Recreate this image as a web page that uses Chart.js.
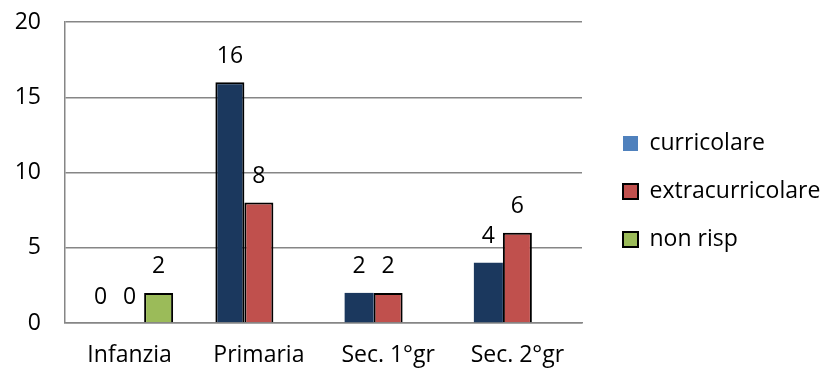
<!DOCTYPE html>
<html>
<head>
<meta charset="utf-8">
<script src="https://cdn.jsdelivr.net/npm/chart.js@4"></script>
<style>
  html, body { margin: 0; padding: 0; background: #fff; }
  #wrap { width: 820px; height: 371px; }
</style>
</head>
<body>
<div id="wrap"><canvas id="scuoleChart" width="820" height="371"></canvas></div>
<script>
// Progetti per ordine di scuola
const categories = ['Infanzia', 'Primaria', 'Sec. 1°gr', 'Sec. 2°gr'];
const curricolare = [0, 16, 2, 4];
const extracurricolare = [0, 8, 2, 6];
const nonRisp = [2, null, null, null];
const yTicks = { min: 0, max: 20, step: 5 };

const FONT = "'Open Sans', sans-serif";
const FONT_SIZE = 23;
const GRID = '#868686';

// value labels above each bar (skipped where there is no value)
const valueLabels = {
    id: 'valueLabels',
    afterDatasetsDraw(chart) {
        const ctx = chart.ctx;
        ctx.save();
        ctx.font = FONT_SIZE + 'px ' + FONT;
        ctx.fillStyle = '#000';
        ctx.textAlign = 'center';
        ctx.textBaseline = 'middle';
        chart.data.datasets.forEach((ds, i) => {
            chart.getDatasetMeta(i).data.forEach((bar, j) => {
                const v = ds.data[j];
                if (v === null || v === undefined) return;
                ctx.fillText(String(v), bar.x, bar.y - 26);
            });
        });
        ctx.restore();
    }
};

// legend: fixed width block on the right, items pushed away from the plot
const legendPlace = {
    id: 'legendPlace',
    beforeLayout(chart) {
        const lg = chart.legend;
        if (!lg || lg._fixedFit) return;
        const baseFit = Object.getPrototypeOf(lg).fit;
        lg.fit = function() {
            baseFit.call(this);
            this.width = 238;
        };
        lg._fixedFit = true;
    },
    afterLayout(chart) {
        const lg = chart.legend;
        if (!lg) return;
        const pad = lg.options.labels.padding;
        lg.left = 623 - pad;
        lg.right = chart.width;
        lg.top = 12;
        lg.bottom = chart.height;
    }
};

new Chart(document.getElementById('scuoleChart'), {
    type: 'bar',
    data: {
        labels: categories,
        datasets: [{
            label: 'curricolare',
            data: curricolare,
            backgroundColor: '#1B385E',
            borderColor: '#000',
            borderWidth: [0, 2, 0, 0]
        }, {
            label: 'extracurricolare',
            data: extracurricolare,
            backgroundColor: '#C0504D',
            borderColor: '#000',
            borderWidth: [0, 2, 2, 2]
        }, {
            label: 'non risp',
            data: nonRisp,
            backgroundColor: '#9BBB59',
            borderColor: '#000',
            borderWidth: 2
        }]
    },
    options: {
        responsive: false,
        animation: false,
        layout: { padding: 0 },
        datasets: {
            bar: { categoryPercentage: 0.673, barPercentage: 1, borderSkipped: 'bottom' }
        },
        scales: {
            x: {
                grid: { display: false, drawTicks: false },
                border: { display: true, color: GRID, width: 1.5 },
                ticks: { color: '#000', font: { family: FONT, size: FONT_SIZE }, padding: 19, maxRotation: 0 },
                afterFit(scale) {
                    scale.height = 48;
                    scale.paddingLeft = 0;
                    scale.paddingRight = 0;
                }
            },
            y: {
                min: yTicks.min,
                max: yTicks.max,
                grid: { color: GRID, lineWidth: 1.5, drawTicks: false },
                border: { display: true, color: GRID, width: 1.5 },
                ticks: { stepSize: yTicks.step, color: '#000', font: { family: FONT, size: FONT_SIZE }, padding: 24 },
                afterFit(scale) {
                    scale.width = 65;
                    scale.paddingTop = 22;
                    scale.paddingBottom = 0;
                }
            }
        },
        plugins: {
            tooltip: { enabled: false },
            legend: {
                position: 'right',
                labels: {
                    boxWidth: 15,
                    boxHeight: 15,
                    padding: 25,
                    color: '#000',
                    font: { family: FONT, size: FONT_SIZE },
                    generateLabels(chart) {
                        const fills = ['#4F81BD', '#C0504D', '#9BBB59'];
                        return chart.data.datasets.map((ds, i) => ({
                            text: ds.label,
                            fillStyle: fills[i],
                            strokeStyle: '#000',
                            lineWidth: i === 0 ? 0 : 2,
                            fontColor: '#000',
                            datasetIndex: i
                        }));
                    }
                }
            }
        }
    },
    plugins: [valueLabels, legendPlace]
});
</script>
</body>
</html>
